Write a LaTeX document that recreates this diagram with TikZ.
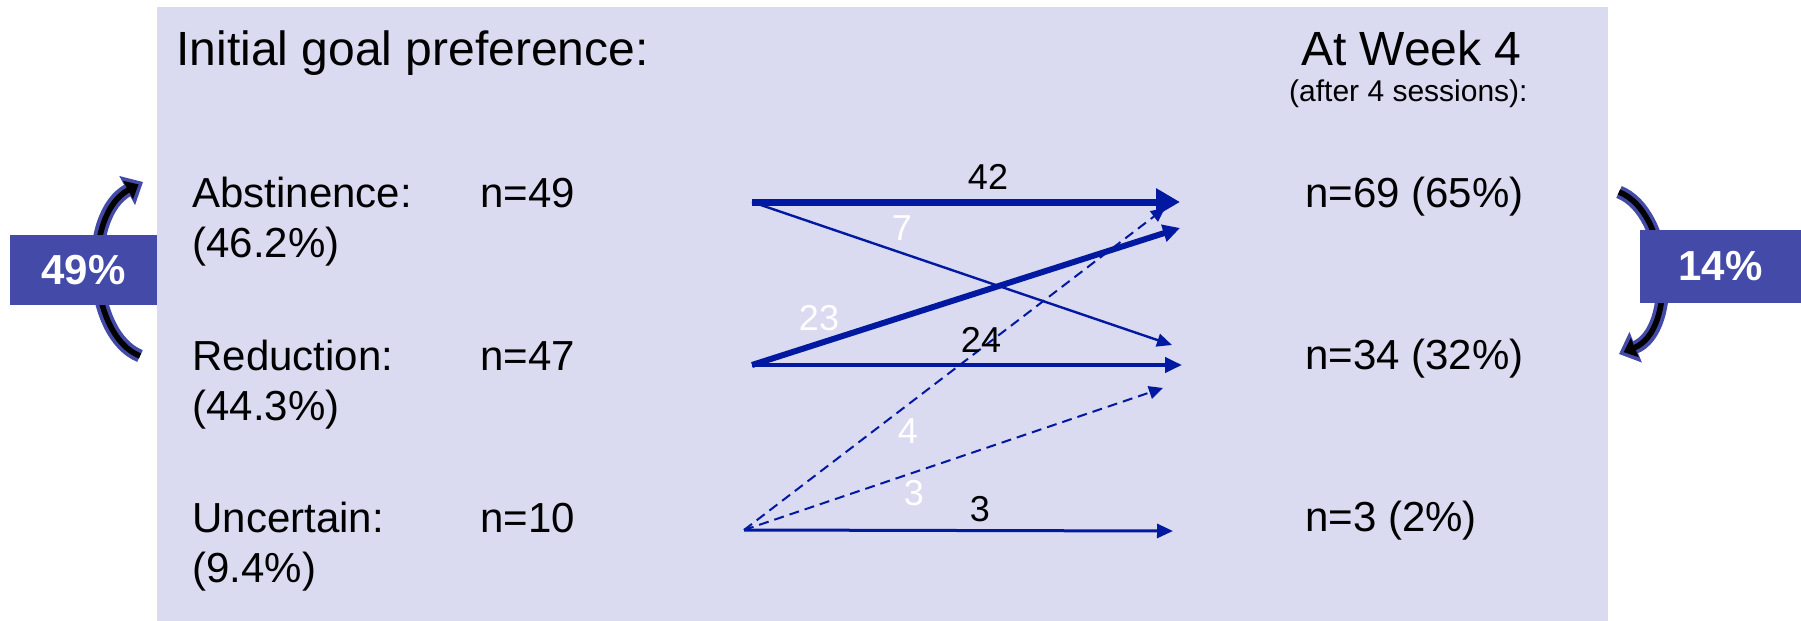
\documentclass[tikz,border=0pt]{standalone}
\usepackage{fontspec}
\setmainfont{Liberation Sans}
\usetikzlibrary{arrows.meta}
\definecolor{panel}{RGB}{218,218,240}
\definecolor{pctblue}{RGB}{67,74,168}
\definecolor{flowblue}{RGB}{0,25,160}

\begin{document}
\begin{tikzpicture}[x=0.5pt, y=-0.5pt,
    title/.style={font=\fontsize{24}{28}\selectfont, inner sep=0pt},
    body/.style={font=\fontsize{21}{25}\selectfont, inner sep=0pt, anchor=base west},
    count/.style={font=\fontsize{18}{22}\selectfont, inner sep=0pt},
    pctbox/.style={fill=pctblue, text=white, font=\fontsize{21}{25}\selectfont\bfseries, inner sep=0pt},
    flow/.style={flowblue},
    turnout/.style={pctblue, line width=6.5pt, -{Triangle[length=9pt,width=16pt]}},
    turnin/.style={black, line width=2.8pt, shorten >=2.5pt, -{Triangle[length=6pt,width=10pt]}},
  ]
    \useasboundingbox (0,0) rectangle (1801,621);
    \fill[panel] (157,7) rectangle (1608,621);

    % Headings
    \node[title, anchor=base west] (initial) at (176,65) {Initial goal preference:};
    \node[title, anchor=base east] (week) at (1522,65) {At Week 4};
    \node[font=\fontsize{15}{18}\selectfont, inner sep=0pt, anchor=base east] (sessions) at (1528,101) {(after 4 sessions):};

    % Initial preference
    \node[body] (abs) at (192,207) {Abstinence:};
    \node[body] (absp) at (192,257) {(46.2\%)};
    \node[body] (absn) at (480,207) {n=49};
    \node[body] (red) at (192,370) {Reduction:};
    \node[body] (redp) at (192,420) {(44.3\%)};
    \node[body] (redn) at (480,370) {n=47};
    \node[body] (unc) at (192,532) {Uncertain:};
    \node[body] (uncp) at (192,582) {(9.4\%)};
    \node[body] (uncn) at (480,532) {n=10};

    % Week 4
    \node[body] (wabs) at (1305,207) {n=69 (65\%)};
    \node[body] (wred) at (1305,369) {n=34 (32\%)};
    \node[body] (wunc) at (1305,531) {n=3 (2\%)};

    % Flow ends
    \coordinate (sAbs) at (752,202);
    \coordinate (sRed) at (752,365);
    \coordinate (sUnc) at (744,530);
    \coordinate (tAbsA) at (1180,202);
    \coordinate (tAbsB) at (1180,228);
    \coordinate (tAbsC) at (1165,208);
    \coordinate (tRedA) at (1182,365);
    \coordinate (tRedB) at (1172,345);
    \coordinate (tRedC) at (1163,388);
    \coordinate (tUnc) at (1173,531);

    % Flows
    \draw[flow, line width=3.5pt, -{Triangle[length=12pt,width=13pt]}] (sAbs) -- (tAbsA);
    \draw[flow, line width=1.2pt, -{Triangle[length=7.5pt,width=6.5pt]}] (sAbs) -- (tRedB);
    \draw[flow, line width=3pt, -{Triangle[length=8.5pt,width=8.5pt]}] (sRed) -- (tAbsB);
    \draw[flow, line width=2pt, -{Triangle[length=8.5pt,width=7.5pt]}] (sRed) -- (tRedA);
    \draw[flow, line width=1pt, dash pattern=on 5pt off 3pt, -{Triangle[length=7pt,width=6.5pt]}] (sUnc) -- (tAbsC);
    \draw[flow, line width=1pt, dash pattern=on 5pt off 3pt, -{Triangle[length=7pt,width=6.5pt]}] (sUnc) -- (tRedC);
    \draw[flow, line width=1.5pt, -{Triangle[length=8pt,width=7pt]}] (sUnc) -- (tUnc);

    % Flow counts
    \node[count] (c42) at (988,177) {42};
    \node[count, white] (c7) at (902,228) {7};
    \node[count, white] (c23) at (819,318) {23};
    \node[count] (c24) at (981,340) {24};
    \node[count, white] (c4) at (908,431) {4};
    \node[count, white] (c3w) at (914,493) {3};
    \node[count] (c3) at (980,509) {3};

    % Turn arrows
    \draw[turnout] (140,356) .. controls (88,335) and (82,215) .. (143,182);
    \draw[turnin] (140,356) .. controls (88,335) and (82,215) .. (143,182);
    \draw[turnout] (1619,192) .. controls (1670,212) and (1678,330) .. (1619,354);
    \draw[turnin] (1619,192) .. controls (1670,212) and (1678,330) .. (1619,354);

    % Percent boxes
    \node[pctbox, minimum width=73.5pt, minimum height=35pt] (left) at (83.5,270) {49\%};
    \node[pctbox, minimum width=80.5pt, minimum height=36.5pt] (right) at (1720.5,266.5) {14\%};
\end{tikzpicture}
\end{document}
